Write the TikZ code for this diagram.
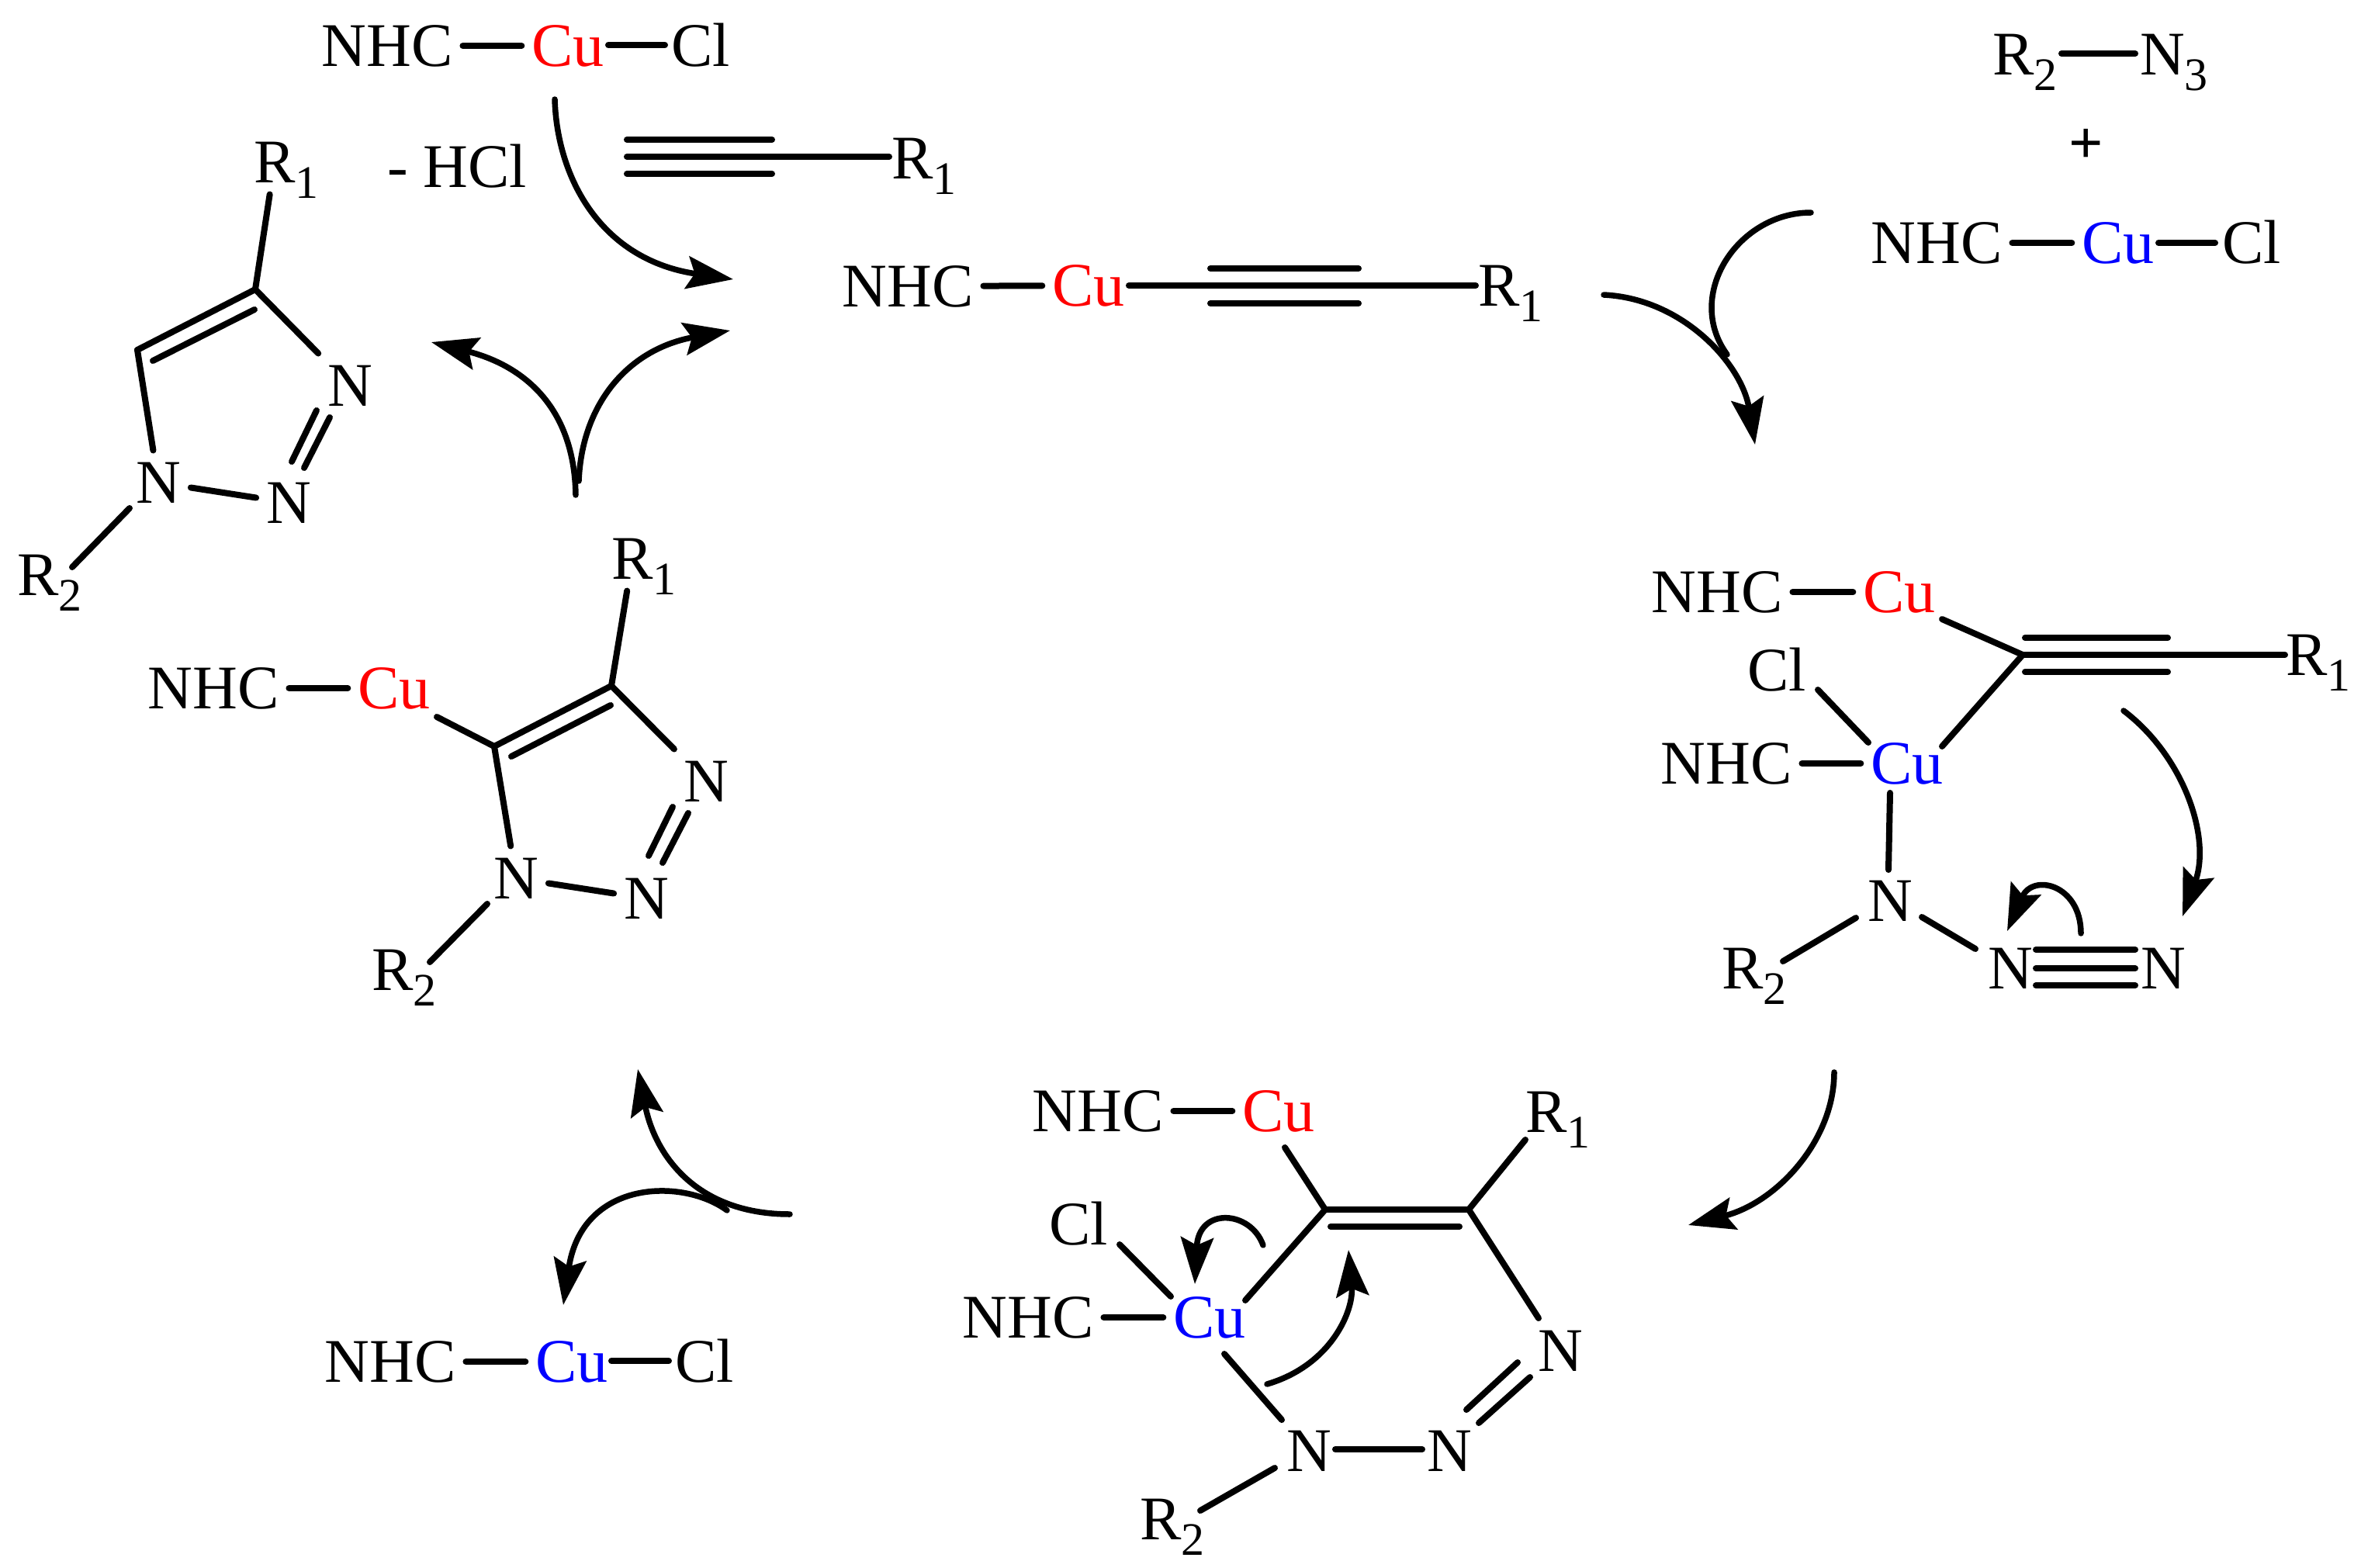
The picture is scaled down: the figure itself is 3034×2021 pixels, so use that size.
\documentclass[tikz,border=0pt]{standalone}
\usepackage{fontspec}
\setmainfont{Liberation Serif}
\usetikzlibrary{arrows.meta}
\newcommand{\chemsub}[1]{\rlap{\raisebox{-20pt}{\fontsize{60}{60}\selectfont #1}}}
\tikzset{
  atom/.style={inner xsep=13pt,inner ysep=15pt,outer sep=0pt,text height=53pt,text depth=0pt,font=\fontsize{80}{96}\selectfont},
  bond/.style={line width=8pt,line cap=round,black},
  curvearrow/.style={line width=7.5pt,line cap=round,black,-{Stealth[length=60pt,width=42pt,inset=10pt]}},
  curveline/.style={line width=7.5pt,line cap=round,black},
  cured/.style={atom,text=red},
  cublue/.style={atom,text=blue}
}
\begin{document}
\begin{tikzpicture}[x=1pt,y=-1pt]
\path[use as bounding box,fill=white] (0,0) rectangle (3034,2021);

% top reagent
\node[atom] (tn) at (499,59) {NHC};
\node[cured] (tc) at (732,59) {Cu};
\node[atom] (tl) at (903,59) {Cl};
\draw[bond] (tn) -- (tc);
\draw[bond] ([shift={(52,-1)}]tc.center) -- ([shift={(-46,-1)}]tl.center);
\node[atom] (hcl) at (589,215) {- HCl};
\node[atom] (ar) at (1176,204) {R\chemsub{1}};
\coordinate (aa) at (808,202);
\coordinate (au1) at (808,180);
\coordinate (au2) at (995,180);
\coordinate (al1) at (808,224);
\coordinate (al2) at (995,224);
\draw[bond] (aa) -- ([shift={(-30,-2)}]ar.center);
\draw[bond] (au1) -- (au2);
\draw[bond] (al1) -- (al2);

% triazole product
\node[atom] (pr1) at (354,209) {R\chemsub{1}};
\coordinate (pc4) at (329,373);
\coordinate (pc5) at (177,451);
\coordinate (pi4) at (328,399);
\coordinate (pi5) at (197,465);
\node[atom] (pn3) at (451,497) {N};
\node[atom] (pn2) at (372,648) {N};
\node[atom] (pn1) at (204,622) {N};
\node[atom] (pr2) at (49,741) {R\chemsub{2}};
\draw[bond] (pc4) -- (pr1);
\draw[bond] (pc4) -- (pc5);
\draw[bond] (pi4) -- (pi5);
\draw[bond] (pc4) -- (pn3);
\draw[bond] (pc5) -- (pn1);
\draw[bond] (pn1) -- (pn2);
\draw[bond] ([shift={(-43,32)}]pn3.center) -- ([shift={(4,-53)}]pn2.center);
\draw[bond] ([shift={(-26,41)}]pn3.center) -- ([shift={(20,-45)}]pn2.center);
\draw[bond] ([shift={(-37,33)}]pn1.center) -- ([shift={(44,-10)}]pr2.center);

% centre acetylide
\node[atom] (cn) at (1170,369) {NHC};
\node[cured] (cc) at (1403,368) {Cu};
\node[atom] (cr) at (1932,368) {R\chemsub{1}};
\coordinate (cu1) at (1560,346);
\coordinate (cu2) at (1751,346);
\coordinate (cl1) at (1560,391);
\coordinate (cl2) at (1751,391);
\draw[bond] (cn) -- (cc);
\draw[bond] ([shift={(52,0)}]cc.center) -- ([shift={(-30,0)}]cr.center);
\draw[bond] (cu1) -- (cu2);
\draw[bond] (cl1) -- (cl2);

% top right reagents
\node[atom] (er) at (2595,70) {R\chemsub{2}};
\node[atom] (en) at (2787,70) {N\chemsub{3}};
\draw[bond] ([shift={(62,-1)}]er.center) -- ([shift={(-35,-1)}]en.center);
\node[inner sep=0pt,font=\fontsize{78}{80}\selectfont\bfseries] (eplus) at (2689,188) {+};
\node[atom] (fn) at (2496,313) {NHC};
\node[cublue] (fc) at (2730,313) {Cu};
\node[atom] (fl) at (2902,313) {Cl};
\draw[bond] (fn) -- (fc);
\draw[bond] ([shift={(52,0)}]fc.center) -- ([shift={(-47,0)}]fl.center);

% right complex
\node[atom] (rn) at (2213,763) {NHC};
\node[cured] (rc) at (2448,763) {Cu};
\node[atom] (rl) at (2290,864) {Cl};
\node[atom] (rm) at (2225,984) {NHC};
\node[cublue] (rb) at (2458,984) {Cu};
\node[atom] (rnn) at (2436,1161) {N};
\node[atom] (rr2) at (2246,1248) {R\chemsub{2}};
\node[atom] (rn2) at (2591,1248) {N};
\node[atom] (rn3) at (2788,1248) {N};
\node[atom] (rr1) at (2973,844) {R\chemsub{1}};
\coordinate (rj) at (2607,844);
\coordinate (ru1) at (2610,822);
\coordinate (ru2) at (2794,822);
\coordinate (rl1) at (2610,866);
\coordinate (rl2) at (2794,866);
\draw[bond] (rn) -- (rc);
\draw[bond] (rm) -- (rb);
\draw[bond] ([shift={(55,35)}]rc.center) -- (rj);
\draw[bond] (rj) -- ([shift={(-28,0)}]rr1.center);
\draw[bond] (ru1) -- (ru2);
\draw[bond] (rl1) -- (rl2);
\draw[bond] ([shift={(53,25)}]rl.center) -- ([shift={(-50,-27)}]rb.center);
\draw[bond] ([shift={(45,-22)}]rb.center) -- (rj);
\draw[bond] ([shift={(-22,38)}]rb.center) -- ([shift={(-2,-40)}]rnn.center);
\draw[bond] ([shift={(-44,22)}]rnn.center) -- ([shift={(52,-9)}]rr2.center);
\draw[bond] ([shift={(41,21)}]rnn.center) -- ([shift={(-45,-25)}]rn2.center);
\draw[bond] ([shift={(33,0)}]rn2.center) -- ([shift={(-36,0)}]rn3.center);
\draw[bond] ([shift={(33,-24)}]rn2.center) -- ([shift={(-36,-24)}]rn3.center);
\draw[bond] ([shift={(33,22)}]rn2.center) -- ([shift={(-36,22)}]rn3.center);

% bottom complex
\node[atom] (dn) at (1415,1432) {NHC};
\node[cured] (dc) at (1648,1432) {Cu};
\node[atom] (dr1) at (1993,1433) {R\chemsub{1}};
\node[atom] (dl) at (1390,1578) {Cl};
\node[atom] (dm) at (1325,1698) {NHC};
\node[cublue] (db) at (1559,1698) {Cu};
\node[atom] (dn1) at (1687,1870) {N};
\node[atom] (dn2) at (1868,1870) {N};
\node[atom] (dn3) at (2011,1741) {N};
\node[atom] (dr2) at (1496,1958) {R\chemsub{2}};
\coordinate (da) at (1708,1559);
\coordinate (dbb) at (1893,1559);
\coordinate (di1) at (1715,1581);
\coordinate (di2) at (1881,1581);
\draw[bond] (dn) -- (dc);
\draw[bond] (dm) -- (db);
\draw[bond] ([shift={(8,47)}]dc.center) -- (da);
\draw[bond] (da) -- (dbb);
\draw[bond] (di1) -- (di2);
\draw[bond] (dbb) -- ([shift={(-27,36)}]dr1.center);
\draw[bond] ([shift={(53,26)}]dl.center) -- ([shift={(-50,-27)}]db.center);
\draw[bond] ([shift={(46,-22)}]db.center) -- (da);
\draw[bond] ([shift={(19,47)}]db.center) -- ([shift={(-35,-40)}]dn1.center);
\draw[bond] (dbb) -- ([shift={(-28,-42)}]dn3.center);
\draw[bond] ([shift={(34,-2)}]dn1.center) -- ([shift={(-35,-2)}]dn2.center);
\draw[bond] ([shift={(-55,15)}]dn3.center) -- ([shift={(22,-53)}]dn2.center);
\draw[bond] ([shift={(-39,34)}]dn3.center) -- ([shift={(38,-36)}]dn2.center);
\draw[bond] ([shift={(-44,22)}]dn1.center) -- ([shift={(51,-11)}]dr2.center);

% left intermediate
\node[atom] (ln) at (275,887) {NHC};
\node[cured] (lc) at (508,887) {Cu};
\node[atom] (lr1) at (815,720) {R\chemsub{1}};
\coordinate (lc4) at (788,884);
\coordinate (lc5) at (637,962);
\coordinate (li4) at (787,909);
\coordinate (li5) at (659,975);
\node[atom] (ln3) at (910,1007) {N};
\node[atom] (ln2) at (833,1158) {N};
\node[atom] (ln1) at (665,1132) {N};
\node[atom] (lr2) at (506,1250) {R\chemsub{2}};
\draw[bond] (ln) -- (lc);
\draw[bond] ([shift={(55,37)}]lc.center) -- (lc5);
\draw[bond] (lc4) -- (lr1);
\draw[bond] (lc4) -- (lc5);
\draw[bond] (li4) -- (li5);
\draw[bond] (lc4) -- (ln3);
\draw[bond] (lc5) -- (ln1);
\draw[bond] (ln1) -- (ln2);
\draw[bond] ([shift={(-43,33)}]ln3.center) -- ([shift={(3,-55)}]ln2.center);
\draw[bond] ([shift={(-23,41)}]ln3.center) -- ([shift={(21,-46)}]ln2.center);
\draw[bond] ([shift={(-37,33)}]ln1.center) -- ([shift={(48,-10)}]lr2.center);

% bottom left regenerated catalyst
\node[atom] (bn) at (503,1755) {NHC};
\node[cublue] (bc) at (737,1755) {Cu};
\node[atom] (bl) at (908,1755) {Cl};
\draw[bond] (bn) -- (bc);
\draw[bond] ([shift={(51,-1)}]bc.center) -- ([shift={(-46,-1)}]bl.center);

% curved arrows
\coordinate (a1s) at (715,128);   \coordinate (a1e) at (945,360);
\coordinate (a2s) at (742,638);   \coordinate (a2e) at (556,441);
\coordinate (a3s) at (746,620);   \coordinate (a3e) at (941,426);
\coordinate (a4s) at (2067,380);  \coordinate (a4e) at (2262,573);
\coordinate (a5s) at (2334,274);  \coordinate (a5e) at (2226,457);
\coordinate (a6s) at (2737,916);  \coordinate (a6e) at (2813,1181);
\coordinate (a7s) at (2682,1203); \coordinate (a7e) at (2587,1200);
\coordinate (a8s) at (2364,1382); \coordinate (a8e) at (2176,1579);
\coordinate (a9s) at (1018,1565); \coordinate (a9e) at (822,1378);
\coordinate (a10s) at (937,1560); \coordinate (a10e) at (726,1682);
\coordinate (a11s) at (1628,1605);\coordinate (a11e) at (1540,1655);
\coordinate (a12s) at (1633,1784);\coordinate (a12e) at (1738,1611);
\draw[curvearrow] (a1s) .. controls (718,230) and (775,335) .. (a1e);
\draw[curvearrow] (a2s) .. controls (740,520) and (670,470) .. (a2e);
\draw[curvearrow] (a3s) .. controls (750,520) and (810,450) .. (a3e);
\draw[curvearrow] (a4s) .. controls (2170,385) and (2245,470) .. (a4e);
\draw[curveline] (a5s) .. controls (2240,274) and (2170,380) .. (a5e);
\draw[curvearrow] (a6s) .. controls (2815,975) and (2850,1080) .. (a6e);
\draw[curvearrow] (a7s) .. controls (2682,1140) and (2620,1125) .. (a7e);
\draw[curvearrow] (a8s) .. controls (2364,1470) and (2290,1550) .. (a8e);
\draw[curvearrow] (a9s) .. controls (900,1565) and (845,1492) .. (a9e);
\draw[curvearrow] (a10s) .. controls (880,1518) and (750,1520) .. (a10e);
\draw[curvearrow] (a11s) .. controls (1612,1560) and (1545,1555) .. (a11e);
\draw[curvearrow] (a12s) .. controls (1715,1760) and (1745,1690) .. (a12e);
\end{tikzpicture}
\end{document}
